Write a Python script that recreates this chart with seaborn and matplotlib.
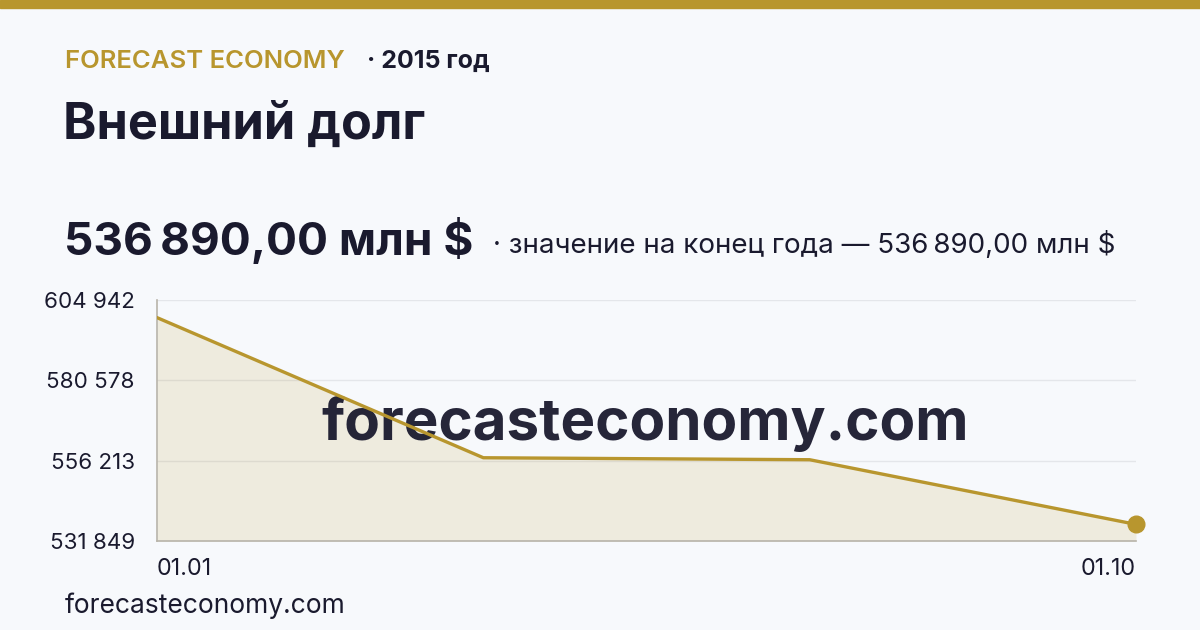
import numpy as np
import pandas as pd
import matplotlib
matplotlib.use("Agg")
import matplotlib.pyplot as plt
import seaborn as sns

# data
dates = ["01.01", "01.04", "01.07", "01.10"]
debt = [599600, 557100, 556500, 536890]
y_ticks = [531849, 556213, 580578, 604942]

GOLD = "#b8962e"
DARK = "#1a1a2e"
BG = "#f7f9fc"

sns.set_style("white")
plt.rcParams["font.family"] = ["Inter", "DejaVu Sans"]

df = pd.DataFrame({"x": range(len(dates)), "debt": debt})

fig = plt.figure(figsize=(12, 6.3), dpi=100, facecolor=BG)

def px(x, y):
    return x / 1200, 1 - y / 630

# top bar
fig.patches.append(plt.Rectangle((0, 1 - 8 / 630), 1, 8 / 630, transform=fig.transFigure,
                                 color=GOLD, zorder=0))

fig.text(*px(65, 61), "FORECAST ECONOMY", color=GOLD, fontsize=18.5, fontweight="semibold", va="center")
fig.text(*px(367, 61), "· 2015 год", color=DARK, fontsize=18, fontweight="bold", va="center")
fig.text(*px(63, 125), "Внешний долг", color=DARK, fontsize=36.3, fontweight="bold", va="center")
fig.text(*px(64, 241), "536\u2009890,00 млн $", color=DARK, fontsize=33, fontweight="bold", va="center")
fig.text(*px(493, 245), "· значение на конец года — 536\u2009890,00 млн $", color=DARK, fontsize=20, va="center")
fig.text(*px(65, 606), "forecasteconomy.com", color=DARK, fontsize=19, va="center")

ax = fig.add_axes([157 / 1200, 1 - 541 / 630, (1136 - 157) / 1200, (541 - 300) / 630])
ax.set_facecolor(BG)

ax.fill_between(df["x"], df["debt"], y_ticks[0], color=GOLD, alpha=0.14, linewidth=0, zorder=1)
sns.lineplot(data=df, x="x", y="debt", color=GOLD, linewidth=2.4, ax=ax, zorder=3)
ax.plot(df["x"].iloc[-1], df["debt"].iloc[-1], "o", color=GOLD, markersize=12, zorder=4, clip_on=False)

# watermark sits between the fill and the line
ax.text(*px(645, 424), "forecasteconomy.com", color=DARK, fontsize=42, fontweight="bold",
        ha="center", va="center", alpha=0.95, zorder=2, transform=fig.transFigure, clip_on=False)

ax.set_xlim(0, len(dates) - 1)
ax.set_ylim(y_ticks[0], y_ticks[-1])
ax.set_yticks(y_ticks)
ax.set_yticklabels([f"{v:,}".replace(",", " ") for v in y_ticks])
ax.set_xticks([0, len(dates) - 1])
xl = ax.set_xticklabels([dates[0], dates[-1]])
xl[0].set_ha("left")
xl[1].set_ha("right")

ax.grid(axis="y", color="#e4e6ea", linewidth=1)
ax.grid(axis="x", visible=False)
for s in ["top", "right"]:
    ax.spines[s].set_visible(False)
for s in ["left", "bottom"]:
    ax.spines[s].set_color("#b8b4aa")
    ax.spines[s].set_linewidth(1.2)
ax.tick_params(axis="y", length=0, labelsize=16.1, colors=DARK, pad=16)
ax.tick_params(axis="x", length=0, labelsize=16.8, colors=DARK, pad=12)
ax.set_xlabel("")
ax.set_ylabel("")

fig.savefig("out.png", dpi=100, facecolor=BG)
